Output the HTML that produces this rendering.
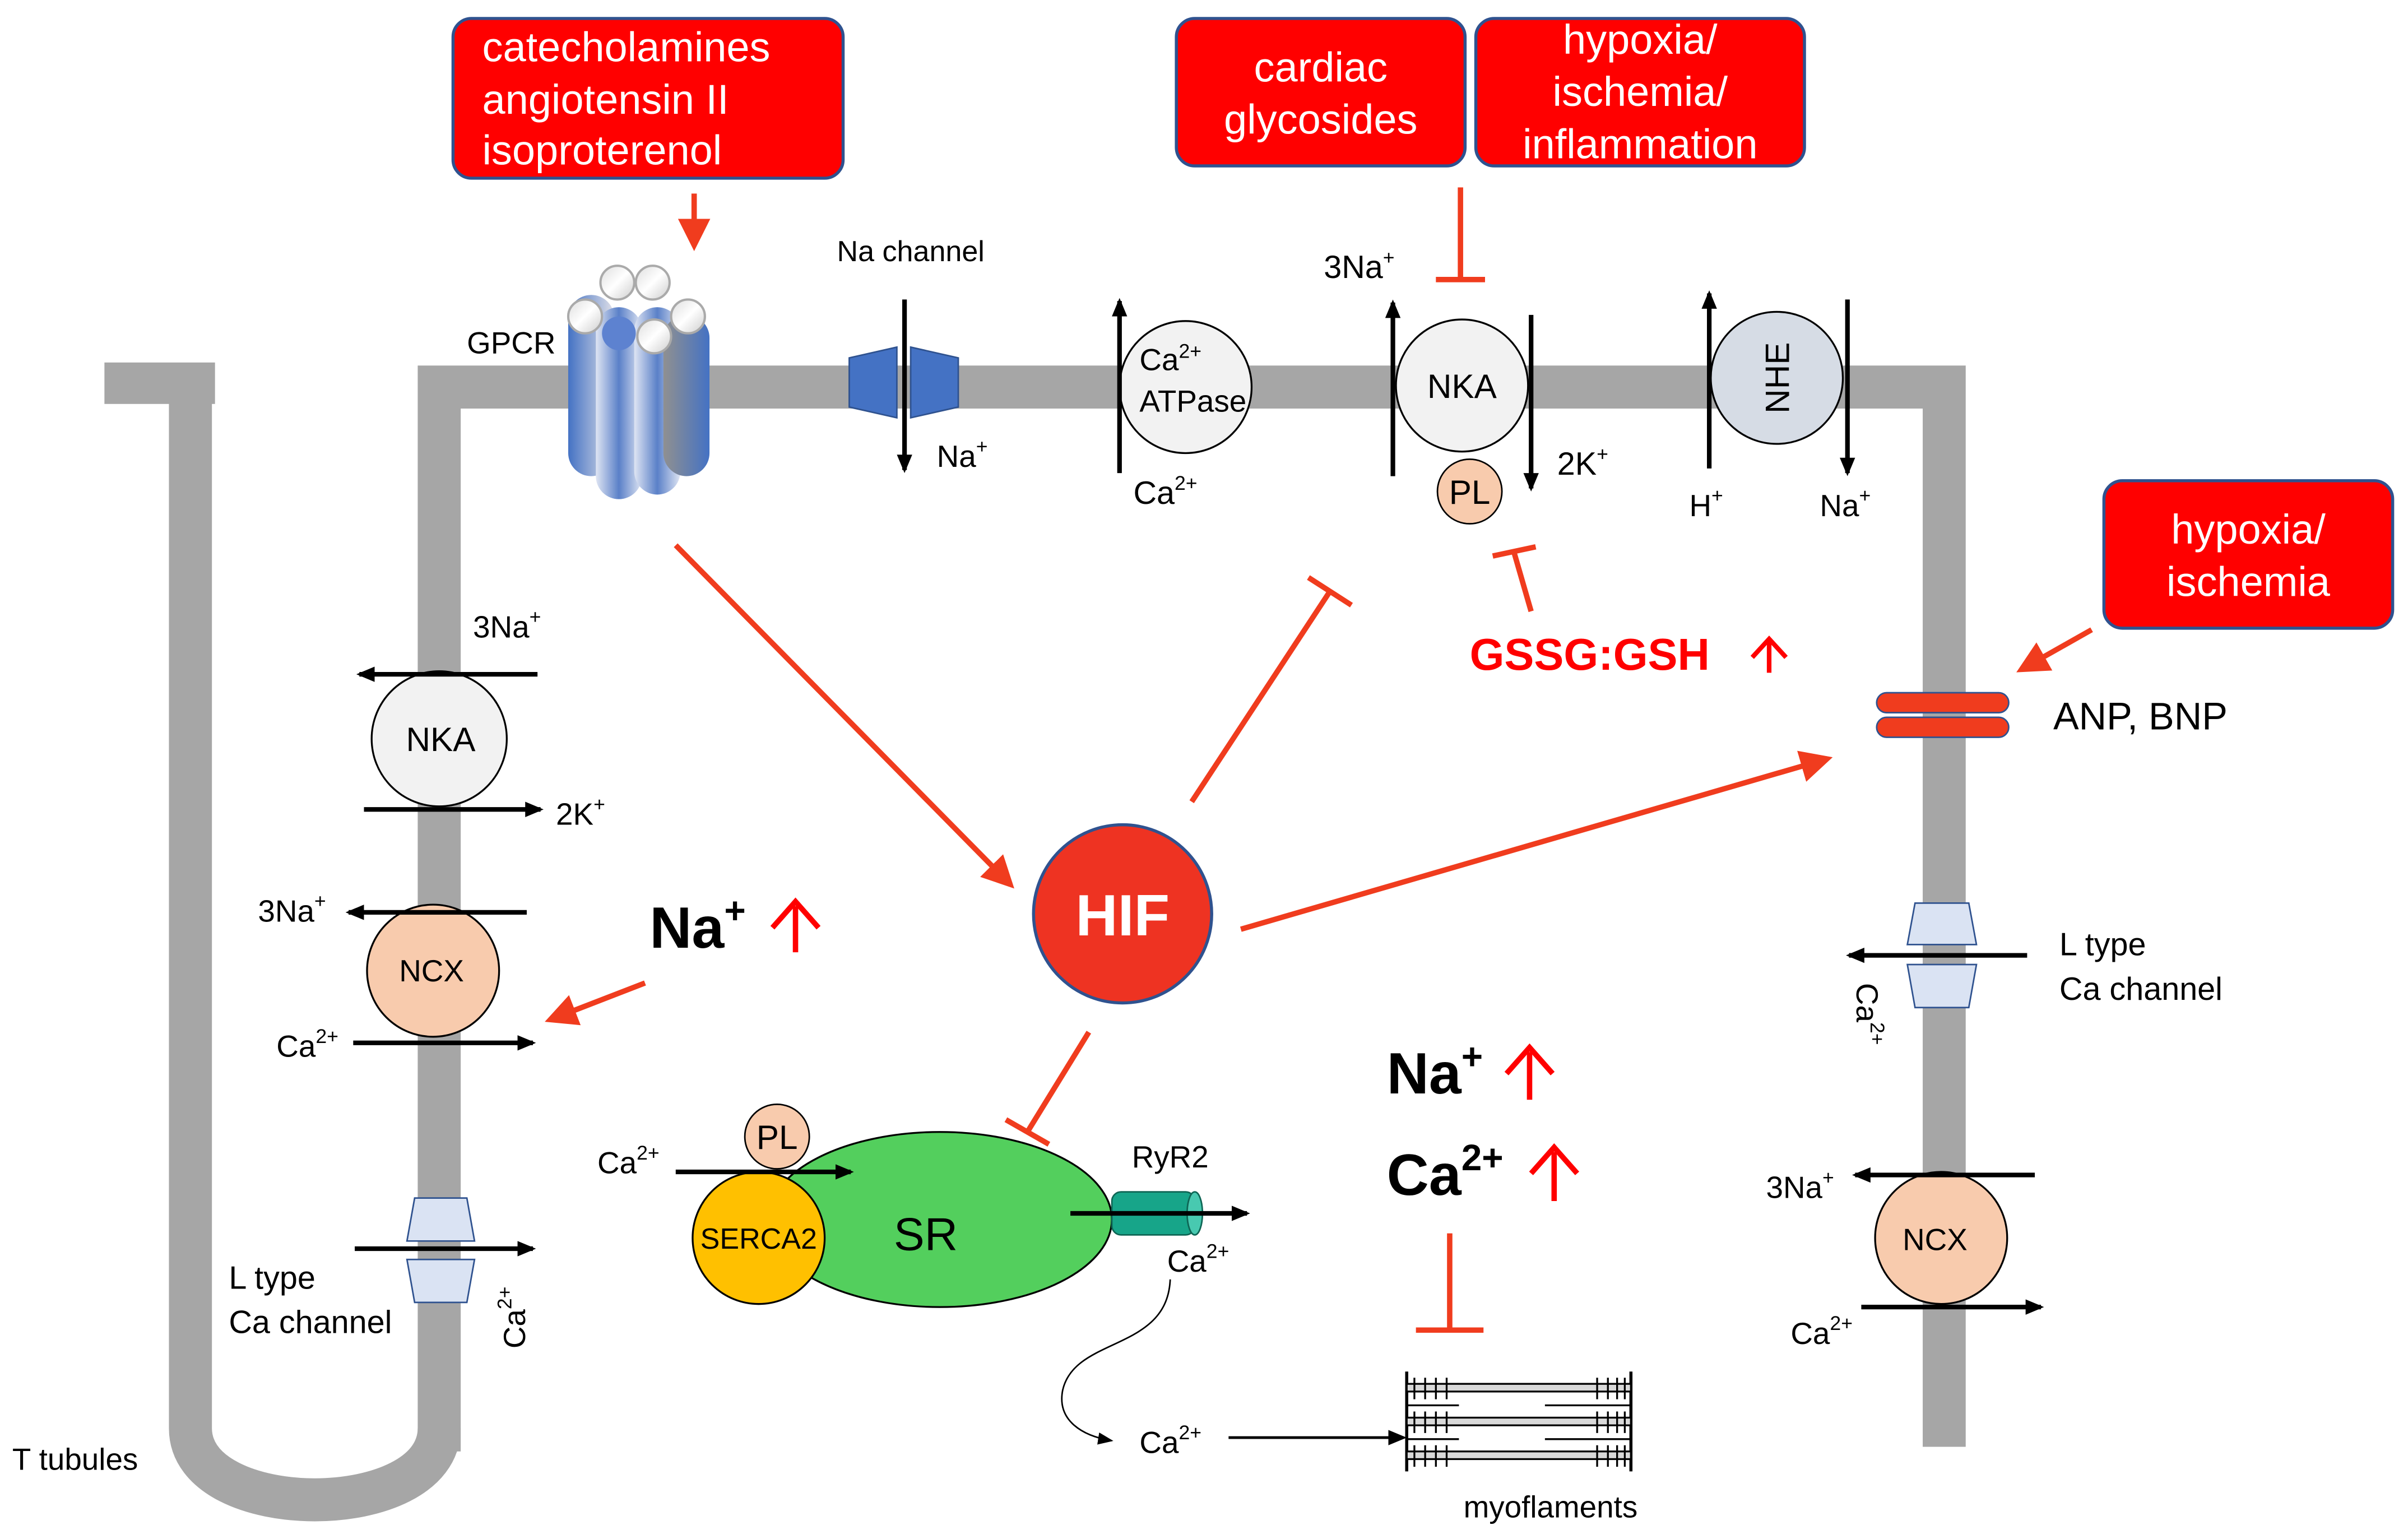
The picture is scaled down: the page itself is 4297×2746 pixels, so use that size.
<!DOCTYPE html>
<html><head><meta charset="utf-8"><style>
html,body{margin:0;padding:0;background:#fff}
svg{display:block}
text{font-family:"Liberation Sans",Arial,sans-serif}
</style></head><body>
<svg width="4297" height="2746" viewBox="0 0 1568 1002" xmlns="http://www.w3.org/2000/svg">
<defs>
<marker id="ab" markerWidth="10" markerHeight="8" refX="9" refY="4" orient="auto" markerUnits="userSpaceOnUse"><path d="M0,0 L10,4 L0,8 z" fill="#000"/></marker>
<marker id="abs" markerWidth="12" markerHeight="10" refX="10" refY="5" orient="auto" markerUnits="userSpaceOnUse"><path d="M0,0 L12,5 L0,10 z" fill="#000"/></marker>
<marker id="ar" markerWidth="6" markerHeight="6" refX="5" refY="3" orient="auto" markerUnits="strokeWidth"><path d="M0,0 L6,3 L0,6 z" fill="#f03c1e"/></marker>
<linearGradient id="gb" x1="0" x2="1"><stop offset="0" stop-color="#4472c4"/><stop offset="1" stop-color="#e0e0e8"/></linearGradient>
<linearGradient id="gb2" x1="0" x2="1"><stop offset="0" stop-color="#dfe5f3"/><stop offset="0.5" stop-color="#5a80c8"/><stop offset="1" stop-color="#dfe5f3"/></linearGradient>
<linearGradient id="gb3" x1="0" x2="1"><stop offset="0" stop-color="#909090"/><stop offset="1" stop-color="#4472c4"/></linearGradient>
<linearGradient id="gw" x1="0" y1="0" x2="1" y2="1"><stop offset="0" stop-color="#ddd"/><stop offset="0.5" stop-color="#fff"/><stop offset="1" stop-color="#ccc"/></linearGradient>
</defs>

<path d="M286,945 V252 H1266 V942" fill="none" stroke="#a6a6a6" stroke-width="28"/>
<rect x="68" y="236" width="72" height="27" fill="#a6a6a6"/>
<path d="M124,250 V930 C124,992 286,992 286,930" fill="none" stroke="#a6a6a6" stroke-width="28"/>

<g fill="#ff0000" stroke="#2f528f" stroke-width="2">
<rect x="295" y="12" width="254" height="104" rx="12"/>
<rect x="766" y="12" width="188" height="96" rx="12"/>
<rect x="961" y="12" width="214" height="96" rx="12"/>
<rect x="1370" y="313" width="188" height="96" rx="12"/>
</g>
<g fill="#fff" font-size="27">
<text x="314" y="40">catecholamines</text>
<text x="314" y="74">angiotensin II</text>
<text x="314" y="107">isoproterenol</text>
<text x="860" y="53" text-anchor="middle">cardiac</text>
<text x="860" y="87" text-anchor="middle">glycosides</text>
<text x="1068" y="35" text-anchor="middle">hypoxia/</text>
<text x="1068" y="69" text-anchor="middle">ischemia/</text>
<text x="1068" y="103" text-anchor="middle">inflammation</text>
<text x="1464" y="354" text-anchor="middle">hypoxia/</text>
<text x="1464" y="388" text-anchor="middle">ischemia</text>
</g>

<g stroke="#f03c1e" stroke-width="3.5" fill="none">
<line x1="452" y1="126" x2="452" y2="160" marker-end="url(#ar)"/>
<line x1="951" y1="122" x2="951" y2="182"/><line x1="935" y1="182" x2="967" y2="182"/>
<line x1="440" y1="355" x2="658" y2="576" marker-end="url(#ar)"/>
<line x1="808" y1="605" x2="1190" y2="494" marker-end="url(#ar)"/>
<line x1="776" y1="522" x2="866" y2="385"/><line x1="852" y1="376" x2="880" y2="394"/>
<line x1="709" y1="672" x2="669" y2="737"/><line x1="655" y1="729" x2="683" y2="745"/>
<line x1="420" y1="640" x2="358" y2="664" marker-end="url(#ar)"/>
<line x1="1362" y1="410" x2="1316" y2="436" marker-end="url(#ar)"/>
<line x1="997" y1="398" x2="986" y2="360"/><line x1="972" y1="362" x2="1000" y2="356"/>
<line x1="944" y1="803" x2="944" y2="866"/><line x1="922" y1="866" x2="966" y2="866"/>
</g>

<g>
<rect x="370" y="192" width="30" height="118" rx="15" fill="url(#gb)"/>
<rect x="388" y="200" width="30" height="125" rx="15" fill="url(#gb2)"/>
<rect x="413" y="200" width="30" height="122" rx="15" fill="url(#gb2)"/>
<rect x="432" y="205" width="30" height="105" rx="15" fill="url(#gb3)"/>
<circle cx="402" cy="184" r="11" fill="url(#gw)" stroke="#aaa" stroke-width="1.5"/>
<circle cx="425" cy="184" r="11" fill="url(#gw)" stroke="#aaa" stroke-width="1.5"/>
<circle cx="381" cy="206" r="11" fill="url(#gw)" stroke="#aaa" stroke-width="1.5"/>
<circle cx="403" cy="217" r="11" fill="#5d82d0"/>
<circle cx="426" cy="219" r="11" fill="url(#gw)" stroke="#aaa" stroke-width="1.5"/>
<circle cx="448" cy="206" r="11" fill="url(#gw)" stroke="#aaa" stroke-width="1.5"/>
</g>
<text x="304" y="230" font-size="20">GPCR</text>

<polygon points="553,233 584,226 584,272 553,265" fill="#4472c4" stroke="#2f528f"/>
<polygon points="593,226 624,233 624,265 593,272" fill="#4472c4" stroke="#2f528f"/>
<line x1="589" y1="195" x2="589" y2="306" stroke="#000" stroke-width="3" marker-end="url(#abs)"/>
<text x="545" y="170" font-size="19">Na channel</text>
<text x="610" y="304" font-size="20">Na<tspan font-size="13" dy="-9">+</tspan></text>

<circle cx="772" cy="252" r="43" fill="#f2f2f2" stroke="#000" stroke-width="1.2"/>
<line x1="729" y1="308" x2="729" y2="196" stroke="#000" stroke-width="3" marker-end="url(#abs)"/>
<text x="742" y="241" font-size="20">Ca<tspan font-size="13" dy="-8">2+</tspan></text>
<text x="742" y="268" font-size="20">ATPase</text>
<text x="738" y="328" font-size="21">Ca<tspan font-size="13" dy="-9">2+</tspan></text>

<circle cx="952" cy="251" r="43" fill="#f2f2f2" stroke="#000" stroke-width="1.2"/>
<text x="952" y="259" font-size="22" text-anchor="middle">NKA</text>
<line x1="907" y1="310" x2="907" y2="197" stroke="#000" stroke-width="3" marker-end="url(#abs)"/>
<line x1="997" y1="205" x2="997" y2="318" stroke="#000" stroke-width="3" marker-end="url(#abs)"/>
<circle cx="957" cy="320" r="21" fill="#f8cbad" stroke="#000" stroke-width="1"/>
<text x="957" y="328" font-size="22" text-anchor="middle">PL</text>
<text x="862" y="181" font-size="21">3Na<tspan font-size="13" dy="-9">+</tspan></text>
<text x="1014" y="309" font-size="21">2K<tspan font-size="13" dy="-9">+</tspan></text>
<text x="957" y="436" font-size="29" font-weight="bold" fill="#ff0000">GSSG:GSH</text>
<line x1="1152" y1="438" x2="1152" y2="418" stroke="#ff0000" stroke-width="3"/>
<path d="M1141,428 L1152,416 L1163,428" fill="none" stroke="#ff0000" stroke-width="3"/>

<circle cx="1157" cy="246" r="43" fill="#d6dce5" stroke="#000" stroke-width="1.2"/>
<text transform="translate(1165,246) rotate(-90)" font-size="22" text-anchor="middle">NHE</text>
<line x1="1113" y1="305" x2="1113" y2="191" stroke="#000" stroke-width="3" marker-end="url(#abs)"/>
<line x1="1203" y1="195" x2="1203" y2="308" stroke="#000" stroke-width="3" marker-end="url(#abs)"/>
<text x="1100" y="336" font-size="20">H<tspan font-size="13" dy="-9">+</tspan></text>
<text x="1185" y="336" font-size="20">Na<tspan font-size="13" dy="-9">+</tspan></text>

<circle cx="286" cy="481" r="44" fill="#f2f2f2" stroke="#000" stroke-width="1.2"/>
<text x="287" y="489" font-size="22" text-anchor="middle">NKA</text>
<line x1="350" y1="439" x2="234" y2="439" stroke="#000" stroke-width="3" marker-end="url(#abs)"/>
<line x1="237" y1="527" x2="352" y2="527" stroke="#000" stroke-width="3" marker-end="url(#abs)"/>
<text x="308" y="415" font-size="20">3Na<tspan font-size="13" dy="-9">+</tspan></text>
<text x="362" y="537" font-size="20">2K<tspan font-size="13" dy="-9">+</tspan></text>

<circle cx="282" cy="632" r="43" fill="#f8cbad" stroke="#000" stroke-width="1.2"/>
<text x="281" y="639" font-size="20" text-anchor="middle">NCX</text>
<line x1="343" y1="594" x2="227" y2="594" stroke="#000" stroke-width="3" marker-end="url(#abs)"/>
<line x1="230" y1="679" x2="347" y2="679" stroke="#000" stroke-width="3" marker-end="url(#abs)"/>
<text x="168" y="600" font-size="20">3Na<tspan font-size="13" dy="-9">+</tspan></text>
<text x="180" y="688" font-size="20">Ca<tspan font-size="13" dy="-9">2+</tspan></text>

<polygon points="270,780 304,780 309,808 265,808" fill="#dae3f3" stroke="#2f528f"/>
<polygon points="265,820 309,820 304,848 270,848" fill="#dae3f3" stroke="#2f528f"/>
<line x1="231" y1="813" x2="347" y2="813" stroke="#000" stroke-width="3" marker-end="url(#abs)"/>
<text x="149" y="839" font-size="21">L type</text>
<text x="149" y="868" font-size="21">Ca channel</text>
<text transform="translate(342,878) rotate(-90)" font-size="20">Ca<tspan font-size="13" dy="-9">2+</tspan></text>
<text x="8" y="957" font-size="20">T tubules</text>

<text x="423" y="617" font-size="38" font-weight="bold">Na<tspan font-size="24" dy="-16">+</tspan></text>
<line x1="518" y1="620" x2="518" y2="590" stroke="#ff0000" stroke-width="3.5"/>
<path d="M503,604 L518,587 L533,604" fill="none" stroke="#ff0000" stroke-width="3.5"/>

<circle cx="731" cy="595" r="58" fill="#ee3322" stroke="#2f528f" stroke-width="2"/>
<text x="731" y="609" font-size="38" font-weight="bold" fill="#fff" text-anchor="middle">HIF</text>

<rect x="1222" y="451" width="86" height="13" rx="6.5" fill="#f03c1e" stroke="#2f528f"/>
<rect x="1222" y="467" width="86" height="13" rx="6.5" fill="#f03c1e" stroke="#2f528f"/>
<text x="1337" y="475" font-size="25">ANP, BNP</text>

<polygon points="1247,588 1282,588 1287,615 1242,615" fill="#dae3f3" stroke="#2f528f"/>
<polygon points="1242,628 1287,628 1282,656 1247,656" fill="#dae3f3" stroke="#2f528f"/>
<line x1="1320" y1="622" x2="1204" y2="622" stroke="#000" stroke-width="3" marker-end="url(#abs)"/>
<text x="1341" y="622" font-size="21">L type</text>
<text x="1341" y="651" font-size="21">Ca channel</text>
<text transform="translate(1209,640) rotate(90)" font-size="20">Ca<tspan font-size="13" dy="-9">2+</tspan></text>

<circle cx="1264" cy="806" r="43" fill="#f8cbad" stroke="#000" stroke-width="1.2"/>
<text x="1260" y="814" font-size="20" text-anchor="middle">NCX</text>
<line x1="1325" y1="765" x2="1208" y2="765" stroke="#000" stroke-width="3" marker-end="url(#abs)"/>
<line x1="1212" y1="851" x2="1329" y2="851" stroke="#000" stroke-width="3" marker-end="url(#abs)"/>
<text x="1150" y="780" font-size="20">3Na<tspan font-size="13" dy="-9">+</tspan></text>
<text x="1166" y="875" font-size="20">Ca<tspan font-size="13" dy="-9">2+</tspan></text>

<text x="903" y="712" font-size="38" font-weight="bold">Na<tspan font-size="24" dy="-16">+</tspan></text>
<line x1="996" y1="716" x2="996" y2="685" stroke="#ff0000" stroke-width="3.5"/>
<path d="M981,699 L996,682 L1011,699" fill="none" stroke="#ff0000" stroke-width="3.5"/>
<text x="903" y="778" font-size="38" font-weight="bold">Ca<tspan font-size="24" dy="-16">2+</tspan></text>
<line x1="1012" y1="782" x2="1012" y2="750" stroke="#ff0000" stroke-width="3.5"/>
<path d="M997,764 L1012,747 L1027,764" fill="none" stroke="#ff0000" stroke-width="3.5"/>

<ellipse cx="612" cy="794" rx="112" ry="57" fill="#53cf5d" stroke="#000" stroke-width="1.2"/>
<text x="582" y="814" font-size="30">SR</text>
<circle cx="494" cy="806" r="43" fill="#ffc000" stroke="#000" stroke-width="1.2"/>
<text x="494" y="813" font-size="19" text-anchor="middle">SERCA2</text>
<circle cx="506" cy="740" r="21" fill="#f8cbad" stroke="#000" stroke-width="1"/>
<text x="506" y="748" font-size="22" text-anchor="middle">PL</text>
<line x1="440" y1="763" x2="554" y2="763" stroke="#000" stroke-width="3" marker-end="url(#abs)"/>
<text x="389" y="764" font-size="20">Ca<tspan font-size="13" dy="-9">2+</tspan></text>
<rect x="724" y="776" width="54" height="28" rx="6" fill="#17a589" stroke="#0e6655"/>
<ellipse cx="778" cy="790" rx="5" ry="14" fill="#48c9b0" stroke="#0e6655"/>
<line x1="697" y1="790" x2="812" y2="790" stroke="#000" stroke-width="3" marker-end="url(#abs)"/>
<text x="737" y="760" font-size="20">RyR2</text>
<text x="760" y="828" font-size="20">Ca<tspan font-size="13" dy="-9">2+</tspan></text>
<path d="M762,833 C760,880 700,870 692,905 C688,925 705,935 724,938" fill="none" stroke="#000" stroke-width="1" marker-end="url(#ab)"/>
<text x="742" y="946" font-size="20">Ca<tspan font-size="13" dy="-9">2+</tspan></text>
<line x1="800" y1="936" x2="914" y2="936" stroke="#000" stroke-width="1.8" marker-end="url(#abs)"/>

<g stroke="#000" stroke-width="1.2">
<line x1="916" y1="893" x2="916" y2="958" stroke-width="2"/>
<line x1="1062" y1="893" x2="1062" y2="958" stroke-width="2"/>
<rect x="916" y="901" width="146" height="5" fill="#d9d9d9"/>
<rect x="916" y="923" width="146" height="5" fill="#d9d9d9"/>
<rect x="916" y="945" width="146" height="5" fill="#d9d9d9"/>
<line x1="916" y1="915" x2="950" y2="915"/><line x1="1006" y1="915" x2="1062" y2="915"/>
<line x1="916" y1="937" x2="950" y2="937"/><line x1="1006" y1="937" x2="1062" y2="937"/>
<path d="M921,897V911M928,897V911M935,897V911M942,897V911M1040,897V911M1047,897V911M1053,897V911M1058,897V911
M921,919V933M928,919V933M935,919V933M942,919V933M1040,919V933M1047,919V933M1053,919V933M1058,919V933
M921,941V955M928,941V955M935,941V955M942,941V955M1040,941V955M1047,941V955M1053,941V955M1058,941V955"/>
</g>
<text x="953" y="988" font-size="20">myoflaments</text>
</svg>
</body></html>
